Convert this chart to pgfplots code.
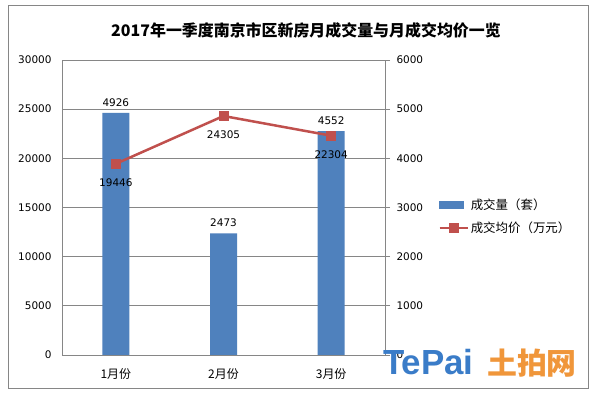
\documentclass[border=0pt]{standalone}
\usepackage{pgfplots}
\pgfplotsset{compat=1.18}
\usepackage{fontspec}
\setmainfont{DejaVu Sans}
\newfontfamily\cjk{Noto Sans CJK SC}
\newfontfamily\logofont{Liberation Sans}
\definecolor{barblue}{HTML}{4F81BD}
\definecolor{linered}{HTML}{C0504D}
\definecolor{gridgray}{HTML}{868686}
\definecolor{logoblue}{HTML}{3A7CC8}
\definecolor{logoorange}{HTML}{F0963A}
\pgfplotsset{
  /pgf/number format/1000 sep={},
  barlegend/.style={legend image code/.code={\fill[barblue] (0bp,-3.5bp) rectangle (24bp,3.5bp);}},
  mylinelegend/.style={legend image code/.code={\draw[mark repeat=2,mark phase=2,##1] plot coordinates {(0bp,0bp) (14bp,0bp) (28bp,0bp)};}},
}
\begin{document}
\begin{tikzpicture}[x=1bp,y=1bp]
\useasboundingbox (0,0) rectangle (593,395);
\fill[white] (0,0) rectangle (593,395);
\draw[gridgray, line width=0.8bp] (8,7) rectangle (588,390);
\node[font=\cjk\bfseries\fontsize{16}{18}\selectfont] at (306,365) {2017年一季度南京市区新房月成交量与月成交均价一览};

% bars on right axis
\begin{axis}[
  at={(62bp,40bp)}, anchor=south west, scale only axis, width=323bp, height=295bp,
  xmin=-0.5, xmax=2.5, ymin=0, ymax=6000,
  axis x line=none, axis y line*=right,
  axis line style={gridgray, line width=0.8bp, -},
  ytick={0,1000,...,6000},
  ymajorgrids, grid style={gridgray, line width=0.8bp},
  major tick length=5bp, tick align=outside, ytick style={gridgray, line width=0.8bp},
  scaled y ticks=false,
  /pgf/number format/assume math mode=true,
  yticklabel style={font=\fontsize{10.5}{12}\selectfont, xshift=3bp},
]
\addplot[ybar, bar width=27bp, fill=barblue, draw=none,
  nodes near coords,
  every node near coord/.append style={font=\fontsize{10.5}{12}\selectfont, text=black, anchor=south, yshift=3bp, /pgf/number format/assume math mode=true}]
  coordinates {(0,4926) (1,2473) (2,4552)};
\end{axis}

% line on left axis
\begin{axis}[
  at={(62bp,40bp)}, anchor=south west, scale only axis, width=323bp, height=295bp,
  xmin=-0.5, xmax=2.5, ymin=0, ymax=30000,
  axis y line*=left, axis x line*=bottom,
  axis line style={gridgray, line width=0.8bp, -},
  xtick={0,1,2}, xticklabels={1月份,2月份,3月份},
  ytick={0,5000,...,30000},
  major tick length=0pt,
  scaled y ticks=false,
  /pgf/number format/assume math mode=true,
  xticklabel style={font=\cjk\fontsize{12}{14}\selectfont, yshift=-10bp},
  yticklabel style={font=\fontsize{10.5}{12}\selectfont, xshift=-7bp},
  legend style={at={(1.155,0.47)}, anchor=west, draw=none, fill=none,
    font=\cjk\fontsize{12.5}{14}\selectfont, row sep=7bp, cells={anchor=west}},
]
\addlegendimage{barlegend}
\addlegendentry{成交量（套）}
\addplot[linered, line width=2.5bp, mark=square*, mark size=4.5bp,
  mark options={fill=linered, draw=linered, line width=0.5bp},
  mylinelegend,
  nodes near coords,
  every node near coord/.append style={font=\fontsize{10.5}{12}\selectfont, text=black, anchor=north, yshift=-11bp, /pgf/number format/assume math mode=true}]
  coordinates {(0,19446) (1,24305) (2,22304)};
\addlegendentry{成交均价（万元）}
\end{axis}

\node[anchor=west, text=logoblue, font=\logofont\bfseries\fontsize{35}{37}\selectfont, inner sep=0] at (383,33) {TePai};
\node[anchor=west, text=logoorange, font=\cjk\bfseries\fontsize{30}{32}\selectfont, inner sep=0] at (487,32) {土拍网};
\end{tikzpicture}
\end{document}
